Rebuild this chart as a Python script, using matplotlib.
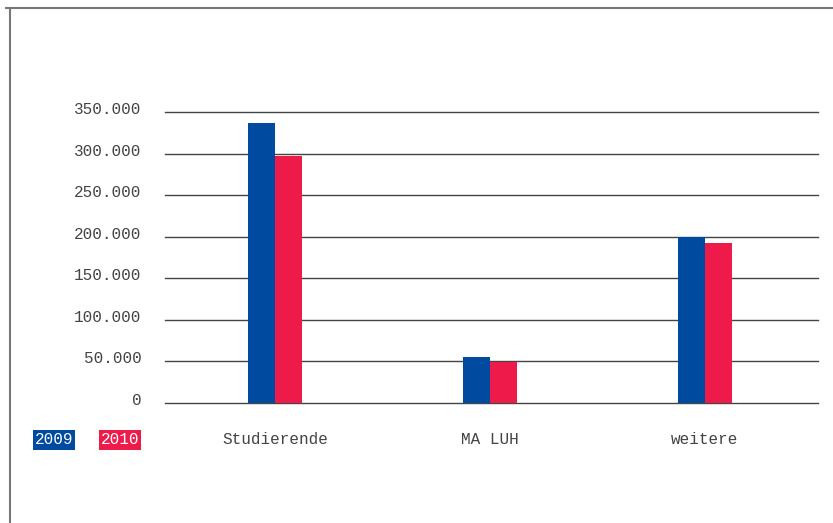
import matplotlib
matplotlib.use("Agg")
import matplotlib.pyplot as plt
from matplotlib.lines import Line2D
import matplotlib.transforms as mtransforms
import numpy

categories = ["Studierende", "MA LUH", "weitere"]
years = ["2009", "2010"]
values_2009 = [337000, 55000, 200000]
values_2010 = [297000, 49500, 192500]
yticks = [0, 50000, 100000, 150000, 200000, 250000, 300000, 350000]
ytick_labels = ["0", "50.000", "100.000", "150.000", "200.000",
                "250.000", "300.000", "350.000"]

blue = "#004ba0"
red = "#ee1a4a"
textcol = "#444444"

plt.rcParams['font.family'] = ['Liberation Mono', 'DejaVu Sans Mono']

fig = plt.figure(figsize=(8.33, 5.23), dpi=100)
ax = fig.add_axes([165/833, 1 - 403/523, 653/833, 360000*0.0008314/523])

x = numpy.arange(len(categories))
width = 0.1256
ax.bar(x - width/2, values_2009, width, color=blue, zorder=2)
ax.bar(x + width/2, values_2010, width, color=red, zorder=2)

for yv in yticks:
    ax.axhline(yv, color="#444444", linewidth=1.0, zorder=1, clip_on=False)

ax.set_xlim(-0.512, 2.526)
ax.set_ylim(0, 360000)
ax.set_yticks(yticks)
ax.set_yticklabels(ytick_labels, fontsize=11.5, color=textcol)
ax.set_xticks(x)
ax.set_xticklabels(categories, fontsize=11.5, color=textcol)
ax.tick_params(axis='y', length=0, pad=17)
ax.tick_params(axis='x', length=0, pad=21)
# nudge y tick labels slightly above their gridlines
shift = mtransforms.ScaledTranslation(0, 4/100, fig.dpi_scale_trans)
for lab in ax.get_yticklabels():
    lab.set_transform(lab.get_transform() + shift)
for s in ax.spines.values():
    s.set_visible(False)

# legend boxes
fig.text(54/833, 1 - 440/523, years[0], color="white", fontsize=11.5,
         ha="center", va="center",
         bbox=dict(facecolor=blue, edgecolor="none", pad=1.5))
fig.text(120/833, 1 - 440/523, years[1], color="white", fontsize=11.5,
         ha="center", va="center",
         bbox=dict(facecolor=red, edgecolor="none", pad=1.5))

# frame lines at top and left
fig.add_artist(Line2D([6/833, 1], [1 - 8/523, 1 - 8/523],
                      transform=fig.transFigure, color="#777777", linewidth=1.5))
fig.add_artist(Line2D([10/833, 10/833], [0, 1 - 8/523],
                      transform=fig.transFigure, color="#777777", linewidth=1.5))

fig.savefig("out.png", dpi=100)
